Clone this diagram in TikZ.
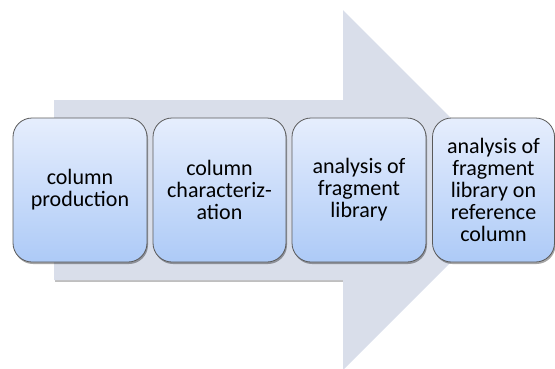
\documentclass[tikz,border=0pt]{standalone}
\usepackage{fontspec}
\setmainfont{Carlito}
\usetikzlibrary{shadows}
\definecolor{arrowfill}{HTML}{D9DEEA}
\definecolor{boxtop}{HTML}{E6EEFD}
\definecolor{boxbot}{HTML}{ADCAF7}
\definecolor{boxline}{HTML}{5A5A5A}
\tikzset{
  stepbox/.style={draw=boxline, line width=0.8pt, rounded corners=19pt,
    top color=boxtop, bottom color=boxbot, minimum height=144pt,
    align=center, font=\fontsize{22}{22}\selectfont, inner sep=0pt,
    drop shadow={shadow xshift=1pt, shadow yshift=-2pt, opacity=0.35, fill=black}},
  bigarrow/.style={fill=arrowfill, draw=none}
}
\begin{document}
\begin{tikzpicture}[x=1pt,y=-1pt]
\useasboundingbox (0,0) rectangle (555,368);
% shadow of arrow body
\fill[black!25] (55,102) -- (345,102) -- (345,282) -- (55,282) -- cycle;
\fill[bigarrow] (54,100) -- (343,100) -- (343,10) -- (523,190) -- (343,370) -- (343,280) -- (54,280) -- cycle;
\node[stepbox, minimum width=134pt] (b1) at (80,190) {column\\production};
\node[stepbox, minimum width=133pt] (b2) at (219.5,190) {column\\characteriz-\\ation};
\node[stepbox, minimum width=134pt] (b3) at (359,190) {analysis of\\fragment\\library};
\node[stepbox, minimum width=122pt] (b4) at (493.5,190) {analysis of\\fragment\\library on\\reference\\column};
\end{tikzpicture}
\end{document}
